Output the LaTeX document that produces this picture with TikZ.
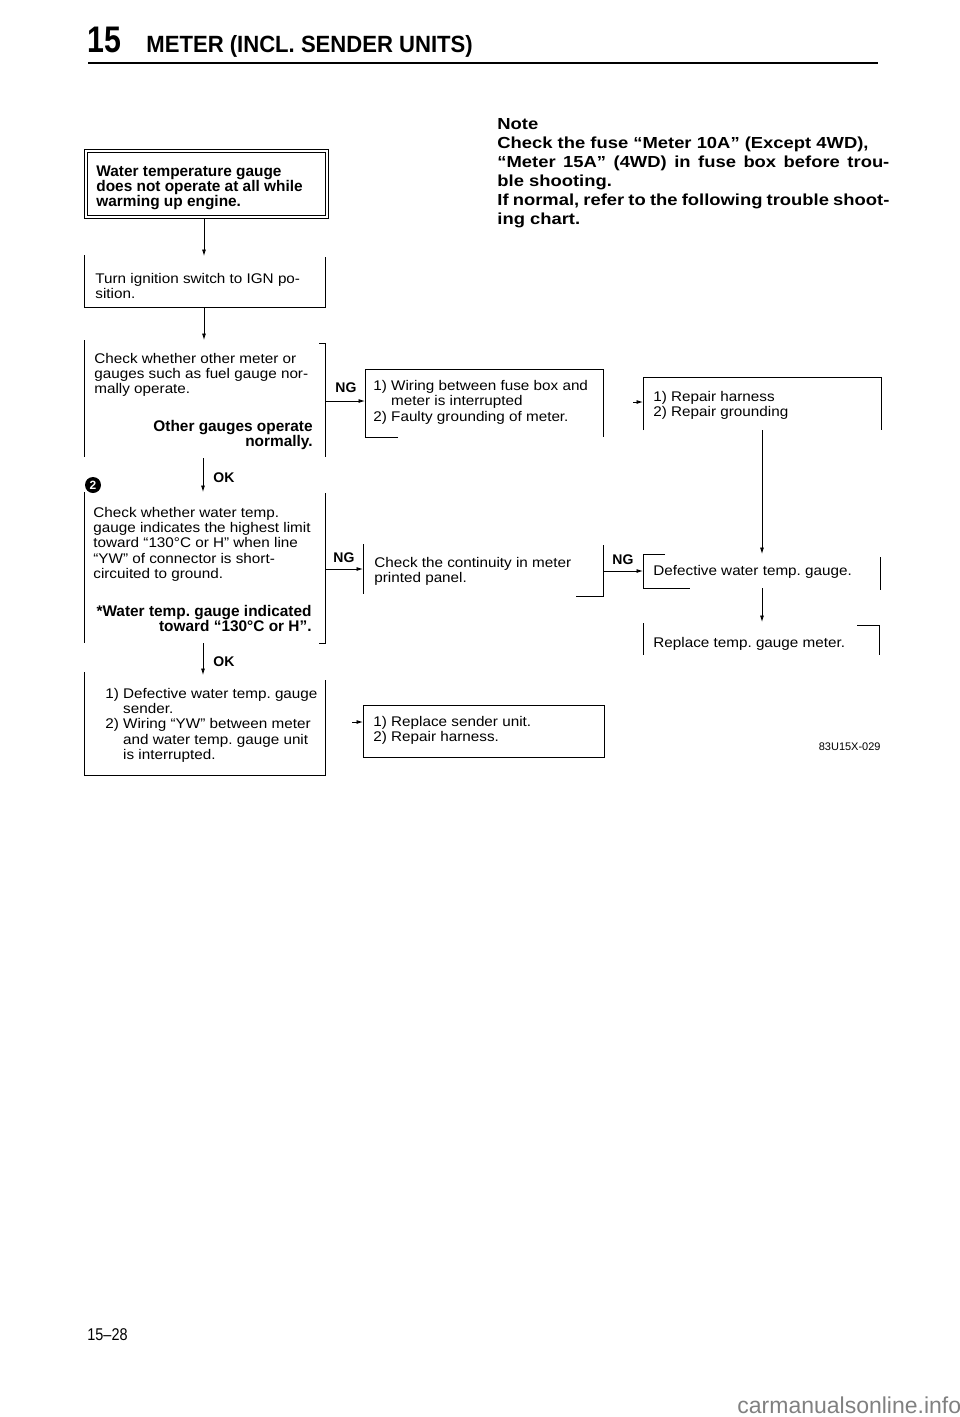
\documentclass[tikz,border=0pt]{standalone}
\usepackage{fontspec}
\setmainfont{Liberation Sans}
\newfontfamily\chartfont{Liberation Sans}[FakeStretch=1.09, Ligatures=TeX]
\newfontfamily\notefont{Liberation Sans}[FakeStretch=1.15, Ligatures=TeX]
\usetikzlibrary{arrows.meta}

\tikzset{every picture/.style={line width=0.75pt}}
\tikzset{
  plain/.style={anchor=north west, inner sep=0pt, align=left, font=\chartfont\fontsize{14}{15.3}\selectfont},
  heavy/.style={inner sep=0pt, font=\fontsize{15.4}{15.3}\selectfont\bfseries},
  branch/.style={anchor=base west, inner sep=0pt, font=\fontsize{14}{14}\selectfont\bfseries},
  flow/.style={-{Latex[length=6.5pt,width=4pt]}},
}

\begin{document}
\frenchspacing
\begin{tikzpicture}[x=1pt, y=1pt, yscale=-1, line width=0.8pt]
  \path[use as bounding box] (0,0) rectangle (960,1417);

  \node (num) at (87,52) [anchor=base west, inner sep=0pt, font=\fontsize{37}{37}\selectfont\bfseries] {\scalebox{0.82}[1]{15}};
  \node (title) at (146,52) [anchor=base west, inner sep=0pt, font=\fontsize{23.5}{24}\selectfont\bfseries] {\scalebox{0.94}[1]{METER (INCL. SENDER UNITS)}};
  \draw [line width=2pt] (88,63) -- (878,63);

  \node (note) at (497,118.5) [anchor=north west, inner sep=0pt, text width=392pt, align=justify, font=\notefont\fontsize{16}{19}\selectfont\bfseries]
    {Note\\Check the fuse ``Meter 10A'' (Except 4WD),\\``Meter 15A'' (4WD) in fuse box before trou-\linebreak ble shooting.\\If normal, refer to the following trouble shoot-\linebreak ing chart.};

  % first column
  \draw (84,149) rectangle (328,218);
  \draw [line width=0.6pt] (87,152) rectangle (325,215);
  \node (start) at (96,165) [anchor=north west, heavy, align=left] {Water temperature gauge\\does not operate at all while\\warming up engine.};
  \coordinate (start s) at (204,218);

  \draw (84,255) -- (84,307) -- (325,307) -- (325,257);
  \node (ign) at (95,272.8) [plain] {Turn ignition switch to IGN po-\\sition.};
  \coordinate (ign n) at (204,256);
  \coordinate (ign s) at (204,307);

  \draw (84,340) -- (84,457);
  \draw (319,343) -- (325,343) -- (325,457);
  \node (other) at (94,352.8) [plain] {Check whether other meter or\\gauges such as fuel gauge nor-\\mally operate.};
  \node (other ok) at (313,420) [anchor=north east, heavy, align=right] {Other gauges operate\\normally.};
  \coordinate (other n) at (204,340);
  \coordinate (other s) at (203,458);
  \coordinate (other e) at (325,401);

  \node (two) at (93,485) [circle, fill=black, text=white, inner sep=0pt, minimum size=16pt, font=\fontsize{12}{12}\selectfont\bfseries] {2};
  \draw (84,492) -- (84,643);
  \draw (325,493) -- (325,643) -- (319,643);
  \node (limit) at (93,506.8) [plain] {Check whether water temp.\\gauge indicates the highest limit\\toward ``130°C or H'' when line\\``YW'' of connector is short-\\circuited to ground.};
  \node (limit ok) at (312,605) [anchor=north east, heavy, align=right] {*Water temp. gauge indicated\\toward ``130°C or H''.};
  \coordinate (limit n) at (203,492);
  \coordinate (limit s) at (203,643);
  \coordinate (limit e) at (325,569);

  \draw (84,672) -- (84,775) -- (325,775) -- (325,680);
  \node (sender) at (105,687.8) [plain] {1) Defective water temp. gauge\\\phantom{1) }sender.\\2) Wiring ``YW'' between meter\\\phantom{2) }and water temp. gauge unit\\\phantom{2) }is interrupted.};
  \coordinate (sender n) at (203,675);
  \coordinate (sender e) at (352,722);

  % second column
  \draw (398,437) -- (365,437) -- (365,369) -- (603,369) -- (603,437);
  \node (wiring) at (373,380) [plain] {1) Wiring between fuse box and\\\phantom{1) }meter is interrupted\\2) Faulty grounding of meter.};
  \coordinate (wiring w) at (365,401);
  \coordinate (wiring e) at (633,402);

  \draw (363,544) -- (363,594);
  \draw (603,545) -- (603,596) -- (576,596);
  \node (panel) at (374,556.8) [plain] {Check the continuity in meter\\printed panel.};
  \coordinate (panel w) at (363,569);
  \coordinate (panel e) at (603,571);

  \draw (363,705) rectangle (604,757);
  \node (renew) at (373,715.8) [plain] {1) Replace sender unit.\\2) Repair harness.};
  \coordinate (renew w) at (363,722);

  % third column
  \draw (643,430) -- (643,377) -- (881,377) -- (881,430);
  \node (fix) at (653,390.8) [plain] {1) Repair harness\\2) Repair grounding};
  \coordinate (fix w) at (643,402);
  \coordinate (fix s) at (762,430);

  \draw (665,554) -- (643,554) -- (643,588) -- (690,588);
  \draw (880,557) -- (880,590);
  \node (gauge) at (653,564.8) [plain] {Defective water temp. gauge.};
  \coordinate (gauge n) at (762,554);
  \coordinate (gauge w) at (643,571);
  \coordinate (gauge s) at (762,588);

  \draw (643,623) -- (643,655);
  \draw (857,625) -- (879,625) -- (879,655);
  \node (meter) at (653,636.8) [plain] {Replace temp. gauge meter.};
  \coordinate (meter n) at (762,622);

  \draw [flow] (start s) -- (ign n);
  \draw [flow] (ign s) -- (other n);
  \draw [flow] (other s) -- (limit n);
  \draw [flow] (limit s) -- (sender n);
  \draw [flow] (other e) -- (wiring w);
  \draw [flow] (limit e) -- (panel w);
  \draw [flow] (panel e) -- (gauge w);
  \draw [flow] (wiring e) -- (fix w);
  \draw [flow] (sender e) -- (renew w);
  \draw [flow] (fix s) -- (gauge n);
  \draw [flow] (gauge s) -- (meter n);

  \node (ok a) at (213,482) [branch] {OK};
  \node (ok b) at (213,666) [branch] {OK};
  \node (ng a) at (335,392) [branch] {NG};
  \node (ng b) at (333,562) [branch] {NG};
  \node (ng c) at (612,564) [branch] {NG};

  \node (code) at (881,750) [anchor=base east, inner sep=0pt, font=\fontsize{11}{11}\selectfont] {83U15X-029};
  \node (page) at (87,1340) [anchor=base west, inner sep=0pt, font=\fontsize{17}{17}\selectfont] {\scalebox{0.85}[1]{15--28}};
  \node (site) at (737,1413) [anchor=base west, inner sep=0pt, text=black!50, font=\fontsize{23}{23}\selectfont] {carmanualsonline.info};
\end{tikzpicture}
\end{document}
